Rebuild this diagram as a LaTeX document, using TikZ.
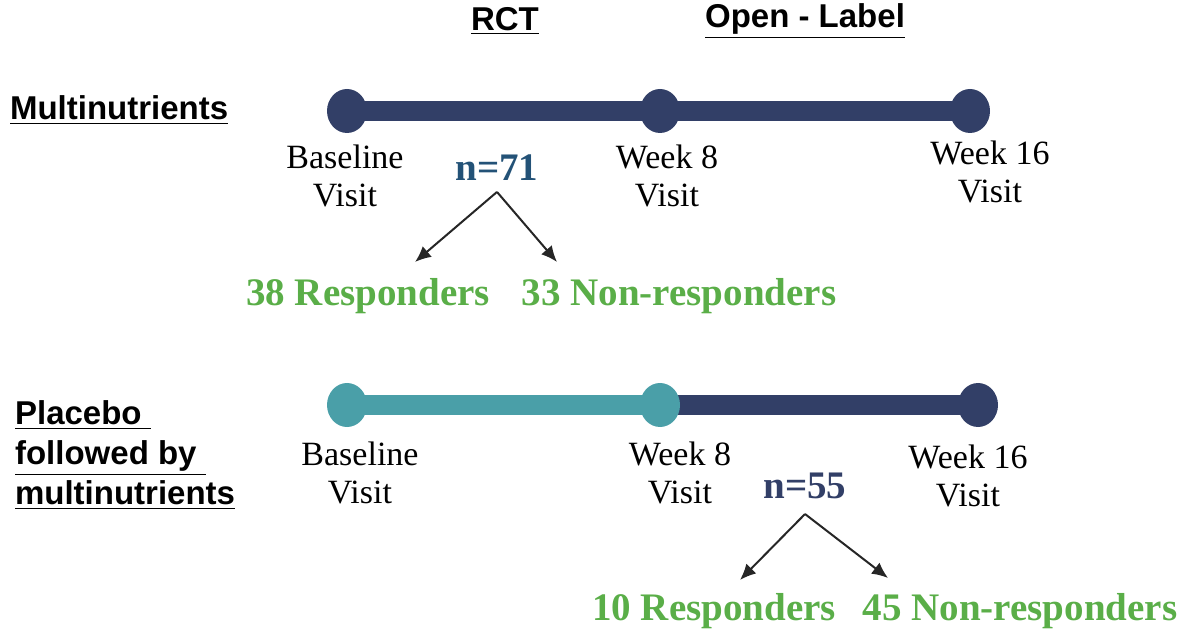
\documentclass[tikz,border=0pt]{standalone}
\usepackage{fontspec}
\setmainfont{Liberation Serif}
\setsansfont{Liberation Sans}
\usetikzlibrary{positioning,arrows.meta,shapes.geometric,backgrounds}
\definecolor{navy}{HTML}{323F67}
\definecolor{tealb}{HTML}{4A9FA8}
\definecolor{nblue}{HTML}{235277}
\definecolor{rgreen}{HTML}{5AAE48}
\tikzstyle{dot}=[ellipse, inner sep=0pt, minimum width=20pt, minimum height=22pt]
\tikzstyle{bar}=[line width=10pt]
\tikzstyle{visit}=[align=center, font=\fontsize{17}{19}\selectfont]
\tikzstyle{head}=[font=\sffamily\bfseries\fontsize{16.5}{20}\selectfont]
\tikzstyle{count}=[font=\bfseries\fontsize{19.5}{22}\selectfont]
\tikzstyle{grp}=[text=rgreen, font=\bfseries\fontsize{19.5}{22}\selectfont]
\tikzstyle{split}=[-{Latex[length=8pt,width=7pt]}, line width=1pt, draw=black!85]

\begin{document}
\begin{tikzpicture}[x=0.5pt, y=-0.5pt]
        \useasboundingbox (0,0) rectangle (1188,630);
        % headings
        \node[head] (rct) at (505,21) {\underline{RCT}};
        \node[head] (ol) at (805,21) {\underline{Open - Label}};
        \node[head, anchor=west] (mn) at (3,110) {\underline{Multinutrients}};
        \node[head, anchor=west, align=left] (pb) at (8,455) {\underline{Placebo~}\\\underline{followed by~}\\\underline{multinutrients}};
        % multinutrients arm
        \node[dot, fill=navy] (a0) at (347,111) {};
        \node[dot, fill=navy] (a1) at (660,111) {};
        \node[dot, fill=navy] (a2) at (970,111) {};
        \begin{scope}[on background layer]
        \draw[bar, navy] (a0.center) -- (a2.center);
        \end{scope}
        \node[visit] (la0) [below=2pt of a0, xshift=-1pt] {Baseline\\Visit};
        \node[visit] (la1) [below=2pt of a1, xshift=3.5pt] {Week 8\\Visit};
        \node[visit] (la2) [below=0pt of a2, xshift=10pt] {Week 16\\Visit};
        \node[count, text=nblue] (n1) at (497,168) {n=71};
        \coordinate (t1) at (415,262);
        \coordinate (t2) at (557,262);
        \draw[split] ([yshift=-2pt]n1.south) -- (t1);
        \draw[split] ([yshift=-2pt]n1.south) -- (t2);
        \node[grp] (r1) at (368,296) {38 Responders};
        \node[grp] (nr1) at (679,296) {33 Non-responders};
        % placebo arm
        \node[dot, fill=tealb] (b0) at (347,405) {};
        \node[dot, fill=tealb] (b1) at (660,405) {};
        \node[dot, fill=navy] (b2) at (978,405) {};
        \begin{scope}[on background layer]
        \draw[bar, navy] (b1.center) -- (b2.center);
        \draw[bar, tealb] (b0.center) -- (b1.center);
        \end{scope}
        \node[visit] (lb0) [below=3.5pt of b0, xshift=6.5pt] {Baseline\\Visit};
        \node[visit] (lb1) [below=3.5pt of b1, xshift=10pt] {Week 8\\Visit};
        \node[visit] (lb2) [below=5pt of b2, xshift=-5pt] {Week 16\\Visit};
        \node[count, text=navy] (n2) at (805,486) {n=55};
        \coordinate (t3) at (740,580);
        \coordinate (t4) at (888,578);
        \draw[split] ([yshift=-4pt]n2.south) -- (t3);
        \draw[split] ([yshift=-4pt]n2.south) -- (t4);
        \node[grp] (r2) at (714,611) {10 Responders};
        \node[grp] (nr2) at (1020,611) {45 Non-responders};
\end{tikzpicture}
\end{document}
